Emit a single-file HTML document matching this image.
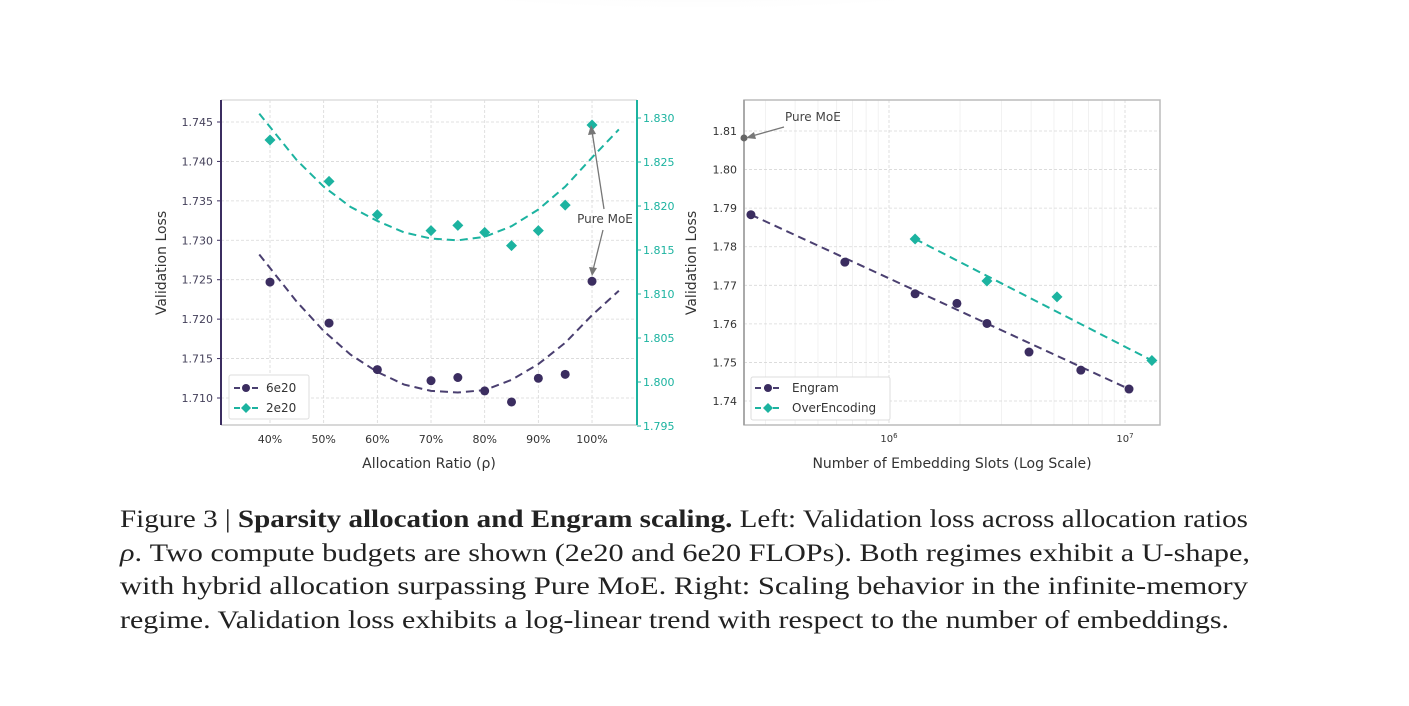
<!DOCTYPE html>
<html><head><meta charset="utf-8">
<style>
html,body{margin:0;padding:0;background:#fff;width:1409px;height:706px;overflow:hidden}
svg{display:block;font-family:"DejaVu Sans","Liberation Sans",sans-serif}
.cap{font-family:"Liberation Serif",serif;font-size:25px;fill:#222}
</style></head>
<body>
<svg id="fig" width="1409" height="706" viewBox="0 0 1409 706" xmlns="http://www.w3.org/2000/svg">
<defs>
<radialGradient id="sh" cx="50%" cy="0%" r="60%"><stop offset="0" stop-color="#f2f2f2"/><stop offset="1" stop-color="#fff"/></radialGradient>
</defs>
<ellipse cx="700" cy="0" rx="330" ry="45" fill="url(#sh)"/>
<g id="left"></g>
<g id="right"></g>
<g>
<text class="cap" x="120" y="527" textLength="1128" lengthAdjust="spacingAndGlyphs">Figure 3 | <tspan font-weight="bold">Sparsity allocation and Engram scaling.</tspan> Left: Validation loss across allocation ratios</text>
<text class="cap" x="120" y="561" textLength="1130" lengthAdjust="spacingAndGlyphs"><tspan font-style="italic">ρ</tspan>. Two compute budgets are shown (2e20 and 6e20 FLOPs). Both regimes exhibit a U-shape,</text>
<text class="cap" x="120" y="594" textLength="1128" lengthAdjust="spacingAndGlyphs">with hybrid allocation surpassing Pure MoE. Right: Scaling behavior in the infinite-memory</text>
<text class="cap" x="120" y="628" textLength="1109" lengthAdjust="spacingAndGlyphs">regime. Validation loss exhibits a log-linear trend with respect to the number of embeddings.</text>
</g>
</svg>
<script>
// ---- Left chart data ----
const leftX = [40, 51, 60, 70, 75, 80, 85, 90, 95, 100];
const loss6e20 = [1.7247, 1.7195, 1.7136, 1.7122, 1.7126, 1.7109, 1.7095, 1.7125, 1.7130, 1.7248];
const loss2e20 = [1.8275, 1.8228, 1.8190, 1.8172, 1.8178, 1.8170, 1.8155, 1.8172, 1.8201, 1.8292];
const fitX = [38, 45, 50, 55, 60, 65, 70, 75, 80, 85, 90, 95, 100, 105];
const fit6e20 = [1.7282, 1.7222, 1.7185, 1.7155, 1.7133, 1.7117, 1.7109, 1.7107, 1.7110, 1.7123, 1.7143, 1.7170, 1.7205, 1.7236];
const fit2e20 = [1.8305, 1.8252, 1.8222, 1.8199, 1.8183, 1.8170, 1.8163, 1.8161, 1.8165, 1.8177, 1.8196, 1.8222, 1.8255, 1.8287];
const leftXTicks = [40, 50, 60, 70, 80, 90, 100];
const leftYTicks = [1.710, 1.715, 1.720, 1.725, 1.730, 1.735, 1.740, 1.745];
const rightAxTicks = [1.795, 1.800, 1.805, 1.810, 1.815, 1.820, 1.825, 1.830];
// ---- Right chart data ----
const engramX = [2.6e5, 6.5e5, 1.29e6, 1.94e6, 2.6e6, 3.92e6, 6.5e6, 1.04e7];
const engramY = [1.7883, 1.7760, 1.7678, 1.7653, 1.7601, 1.7527, 1.7480, 1.7431];
const overX = [1.29e6, 2.6e6, 5.15e6, 1.3e7];
const overY = [1.7820, 1.7711, 1.7670, 1.7505];
const moeX = [2.43e5];
const moeY = [1.8082];
const rightYTicks = [1.74, 1.75, 1.76, 1.77, 1.78, 1.79, 1.80, 1.81];

const NS = "http://www.w3.org/2000/svg";
const PURPLE = "#3b2d60", TEAL = "#1cb3a0", GRID = "#d8d8d8", TXT = "#333";
function mk(parent, tag, attrs, text) {
  const e = document.createElementNS(NS, tag);
  for (const k in attrs) e.setAttribute(k, attrs[k]);
  if (text !== undefined) e.textContent = text;
  parent.appendChild(e);
  return e;
}
function diamond(cx, cy, r) { return `${cx},${cy-r} ${cx+r},${cy} ${cx},${cy+r} ${cx-r},${cy}`; }

// ===== LEFT =====
const L = document.getElementById('left');
const lx0 = 221, lx1 = 637, ly0 = 100, ly1 = 425;
const lxs = v => 270 + (v - 40) * 5.367;
const lys = v => 398 - (v - 1.710) / 0.005 * 39.43;
const rys = v => 426 - (v - 1.795) / 0.005 * 44.0;
for (const t of leftXTicks) {
  const g = mk(L, 'line', {x1: lxs(t), x2: lxs(t), y1: ly0, y2: ly1, stroke: GRID, 'stroke-dasharray': '3,2', 'stroke-width': 0.8});
  
  
  const tl = mk(L, 'text', {x: lxs(t), y: 443, 'font-size': 11, fill: TXT, 'text-anchor': 'middle'}, t + '%');
  
  
}
for (const t of leftYTicks) {
  const g = mk(L, 'line', {x1: lx0, x2: lx1, y1: lys(t), y2: lys(t), stroke: GRID, 'stroke-dasharray': '3,2', 'stroke-width': 0.8});
  
  
  const tl = mk(L, 'text', {x: 213, y: lys(t) + 4, 'font-size': 11, fill: '#44405a', 'text-anchor': 'end'}, t.toFixed(3));
  
  
  mk(L, 'line', {x1: lx0 - 4, x2: lx0, y1: lys(t), y2: lys(t), stroke: PURPLE});
}
for (const t of rightAxTicks) {
  mk(L, 'line', {x1: lx1, x2: lx1 + 4, y1: rys(t), y2: rys(t), stroke: TEAL});
  const tl = mk(L, 'text', {x: 643, y: rys(t) + 4, 'font-size': 11, fill: TEAL}, t.toFixed(3));
  
  
}
mk(L, 'line', {x1: lx0, x2: lx1, y1: ly0, y2: ly0, stroke: '#ddd', 'stroke-width': 1.5});
mk(L, 'line', {x1: lx0, x2: lx1, y1: ly1, y2: ly1, stroke: '#ccc', 'stroke-width': 1.5});
mk(L, 'line', {x1: lx0, x2: lx0, y1: ly0, y2: ly1, stroke: PURPLE, 'stroke-width': 2});
mk(L, 'line', {x1: lx1, x2: lx1, y1: ly0, y2: ly1, stroke: TEAL, 'stroke-width': 2});
// fit curves
let p1 = mk(L, 'polyline', {points: fitX.map((x, i) => lxs(x) + ',' + lys(fit6e20[i])).join(' '), fill: 'none', stroke: '#4a3f70', 'stroke-width': 2, 'stroke-dasharray': '8,5'});


let p2 = mk(L, 'polyline', {points: fitX.map((x, i) => lxs(x) + ',' + rys(fit2e20[i])).join(' '), fill: 'none', stroke: TEAL, 'stroke-width': 2, 'stroke-dasharray': '8,5'});


leftX.forEach((x, i) => {
  const c = mk(L, 'circle', {cx: lxs(x), cy: lys(loss6e20[i]), r: 4.5, fill: PURPLE});
  
  
  const d = mk(L, 'polygon', {points: diamond(lxs(x), rys(loss2e20[i]), 5.5), fill: TEAL});
  
  
});
// annotation
mk(L, 'text', {x: 605, y: 223, 'font-size': 12, fill: '#444', 'text-anchor': 'middle'}, 'Pure MoE');
mk(L, 'line', {x1: 604, y1: 209, x2: 592, y2: 131, stroke: '#777', 'stroke-width': 1.3});
mk(L, 'polygon', {points: '591,125 588,135 596,134', fill: '#777'});
mk(L, 'line', {x1: 603, y1: 230, x2: 593, y2: 270, stroke: '#777', 'stroke-width': 1.3});
mk(L, 'polygon', {points: '592,276 589,267 597,268', fill: '#777'});
// legend
const lg = mk(L, 'g', {});


mk(lg, 'rect', {x: 229, y: 375, width: 80, height: 44, fill: '#fff', stroke: '#ddd', rx: 2});
mk(lg, 'line', {x1: 234, x2: 258, y1: 388, y2: 388, stroke: '#4a3f70', 'stroke-width': 2, 'stroke-dasharray': '6,3'});
mk(lg, 'circle', {cx: 246, cy: 388, r: 4, fill: PURPLE});
mk(lg, 'text', {x: 266, y: 392, 'font-size': 12, fill: TXT}, '6e20');
mk(lg, 'line', {x1: 234, x2: 258, y1: 408, y2: 408, stroke: TEAL, 'stroke-width': 2, 'stroke-dasharray': '6,3'});
mk(lg, 'polygon', {points: diamond(246, 408, 5), fill: TEAL});
mk(lg, 'text', {x: 266, y: 412, 'font-size': 12, fill: TXT}, '2e20');
mk(L, 'text', {x: 429, y: 468, 'font-size': 14, fill: '#333', 'text-anchor': 'middle'}, 'Allocation Ratio (ρ)');
mk(L, 'text', {x: 0, y: 0, 'font-size': 14, fill: '#333', 'text-anchor': 'middle', transform: 'translate(166,263) rotate(-90)'}, 'Validation Loss');

// ===== RIGHT =====
const R = document.getElementById('right');
const rx0 = 744, rx1 = 1160, ry0 = 100, ry1 = 425;
const rxs = v => 889 + Math.log10(v / 1e6) * 236;
const ryr = v => 401 - (v - 1.74) / 0.01 * 38.57;
for (let dec = 5; dec <= 7; dec++) for (let m = 1; m <= 9; m++) {
  const v = m * Math.pow(10, dec);
  const x = rxs(v);
  if (x < rx0 || x > rx1) continue;
  mk(R, 'line', {x1: x, x2: x, y1: ry0, y2: ry1, stroke: m === 1 ? GRID : '#eee', 'stroke-dasharray': m === 1 ? '3,2' : '', 'stroke-width': 0.8});
}
for (const t of rightYTicks) {
  mk(R, 'line', {x1: rx0, x2: rx1, y1: ryr(t), y2: ryr(t), stroke: GRID, 'stroke-dasharray': '3,2', 'stroke-width': 0.8});
  const tl = mk(R, 'text', {x: 737, y: ryr(t) + 4, 'font-size': 11, fill: TXT, 'text-anchor': 'end'}, t.toFixed(2));
  
  
}
const t6 = mk(R, 'text', {x: 889, y: 442, 'font-size': 10, fill: TXT, 'text-anchor': 'middle'}, '10');
mk(t6, 'tspan', {dy: -4, 'font-size': 7}, '6');
const t7 = mk(R, 'text', {x: 1125, y: 442, 'font-size': 10, fill: TXT, 'text-anchor': 'middle'}, '10');
mk(t7, 'tspan', {dy: -4, 'font-size': 7}, '7');
mk(R, 'rect', {x: rx0, y: ry0, width: rx1 - rx0, height: ry1 - ry0, fill: 'none', stroke: '#bbb', 'stroke-width': 1.5});
mk(R, 'line', {x1: rx0, x2: rx0, y1: ry0, y2: ry1, stroke: '#999', 'stroke-width': 1.5});
let e1 = mk(R, 'line', {x1: rxs(engramX[0]), y1: ryr(engramY[0]), x2: rxs(engramX[engramX.length - 1]), y2: ryr(engramY[engramY.length - 1]), stroke: '#4a3f70', 'stroke-width': 2, 'stroke-dasharray': '8,5'});


let o1 = mk(R, 'line', {x1: rxs(overX[0]), y1: ryr(overY[0]), x2: rxs(overX[overX.length - 1]), y2: ryr(overY[overY.length - 1]), stroke: TEAL, 'stroke-width': 2, 'stroke-dasharray': '8,5'});


engramX.forEach((x, i) => {
  const c = mk(R, 'circle', {cx: rxs(x), cy: ryr(engramY[i]), r: 4.5, fill: PURPLE});
  
  
});
overX.forEach((x, i) => {
  const d = mk(R, 'polygon', {points: diamond(rxs(x), ryr(overY[i]), 5.5), fill: TEAL});
  
  
});
moeX.forEach((x, i) => {
  const c = mk(R, 'circle', {cx: rxs(x), cy: ryr(moeY[i]), r: 3.5, fill: '#666'});
  
  
});
mk(R, 'text', {x: 785, y: 121, 'font-size': 12, fill: '#444'}, 'Pure MoE');
mk(R, 'line', {x1: 784, y1: 127, x2: 752, y2: 136, stroke: '#777', 'stroke-width': 1.3});
mk(R, 'polygon', {points: '746,138 754,132 756,139', fill: '#777'});
const rg = mk(R, 'g', {});


mk(rg, 'rect', {x: 751, y: 377, width: 139, height: 43, fill: '#fff', stroke: '#ddd', rx: 2});
mk(rg, 'line', {x1: 755, x2: 780, y1: 388, y2: 388, stroke: '#4a3f70', 'stroke-width': 2, 'stroke-dasharray': '6,3'});
mk(rg, 'circle', {cx: 768, cy: 388, r: 4, fill: PURPLE});
mk(rg, 'text', {x: 792, y: 392, 'font-size': 12, fill: TXT}, 'Engram');
mk(rg, 'line', {x1: 755, x2: 780, y1: 408, y2: 408, stroke: TEAL, 'stroke-width': 2, 'stroke-dasharray': '6,3'});
mk(rg, 'polygon', {points: diamond(768, 408, 5), fill: TEAL});
mk(rg, 'text', {x: 792, y: 412, 'font-size': 12, fill: TXT}, 'OverEncoding');
mk(R, 'text', {x: 952, y: 468, 'font-size': 14, fill: '#333', 'text-anchor': 'middle'}, 'Number of Embedding Slots (Log Scale)');
mk(R, 'text', {x: 0, y: 0, 'font-size': 14, fill: '#333', 'text-anchor': 'middle', transform: 'translate(696,263) rotate(-90)'}, 'Validation Loss');
</script>
</body></html>
